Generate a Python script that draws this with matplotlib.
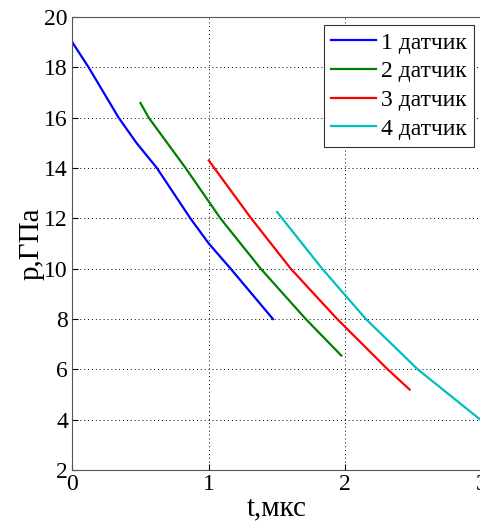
import matplotlib
matplotlib.use("Agg")
import matplotlib.pyplot as plt

plt.rcParams['font.family'] = ['Liberation Serif', 'DejaVu Serif']

# sensor curves
t1 = [0.0, 0.12, 0.34, 0.47, 0.62, 0.865, 1.0, 1.16, 1.47]
p1 = [19.0, 18.0, 16.0, 15.0, 14.0, 12.0, 11.0, 10.0, 8.0]
t2 = [0.50, 0.56, 0.83, 1.085, 1.38, 1.71, 1.97]
p2 = [16.58, 16.0, 14.0, 12.0, 10.0, 8.0, 6.55]
t3 = [1.0, 1.04, 1.31, 1.60, 1.94, 2.31, 2.47]
p3 = [14.3, 14.0, 12.0, 10.0, 8.0, 6.0, 5.2]
t4 = [1.50, 1.83, 2.15, 2.53, 3.0]
p4 = [12.25, 10.0, 8.0, 6.0, 3.95]
labels = ['1 датчик', '2 датчик', '3 датчик', '4 датчик']
colors = ['#0000ff', '#008000', '#ff0000', '#00bfbf']

fig = plt.figure(figsize=(4.81, 5.27), dpi=100)
ax = fig.add_axes([0.150, 0.108, 0.852, 0.860])

for t, p, lab, c in zip([t1, t2, t3, t4], [p1, p2, p3, p4], labels, colors):
    ax.plot(t, p, color=c, lw=1.6, label=lab)

ax.set_xlim(0, 3)
ax.set_ylim(2, 20)
ax.set_xticks([0, 1, 2, 3])
ax.set_yticks(range(2, 21, 2))
ax.tick_params(direction='in', labelsize=17, length=4, width=0.8, pad=3)
ax.grid(True, linestyle=(0, (1, 3)), color='black', linewidth=0.7)
for s in ax.spines.values():
    s.set_color('#555555')
ax.set_xlabel('t,мкс', fontsize=21, labelpad=0)
ax.set_ylabel('p,ГПа', fontsize=21, labelpad=0)

leg = ax.legend(loc='upper right', fontsize=17, fancybox=False, framealpha=1,
                edgecolor='#333333', handlelength=1.9, handletextpad=0.2,
                labelspacing=0.3, borderpad=0.3, borderaxespad=0.35)
leg.get_frame().set_linewidth(0.8)

fig.savefig('out.png', dpi=100)
